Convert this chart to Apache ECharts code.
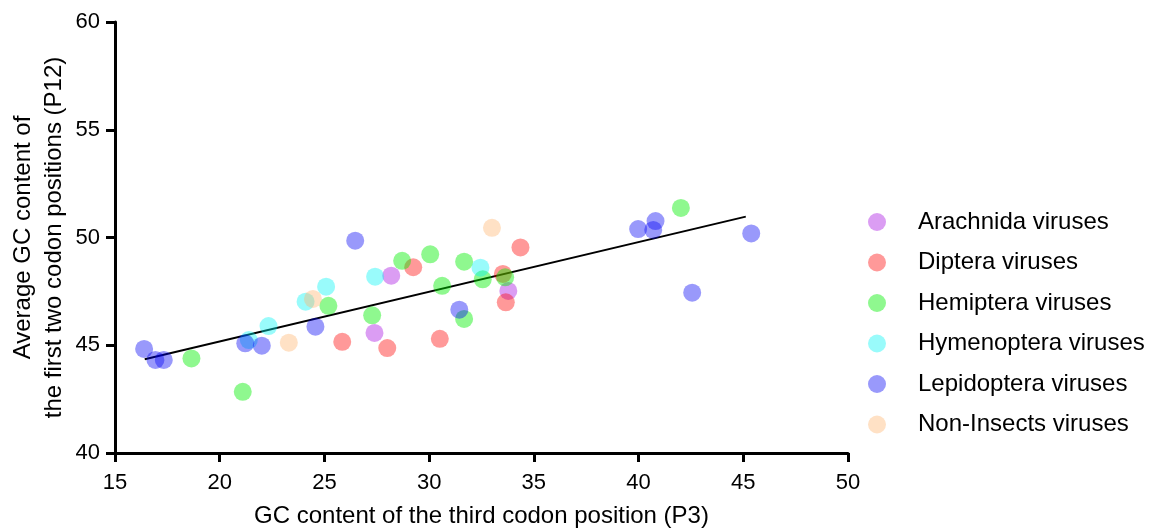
<!DOCTYPE html>
<html>
<head>
<meta charset="utf-8">
<script src="https://cdn.jsdelivr.net/npm/echarts@6/dist/echarts.min.js"></script>
<style>
  html, body { margin: 0; padding: 0; background: #fff; }
  #main { width: 1149px; height: 528px; }
</style>
</head>
<body>
<div id="main"></div>
<script>
// GC3 (x) vs GC12 (y) per virus group
var arachnida = [[28.19, 48.23], [27.39, 45.57], [33.78, 47.52]]
var diptera = [[25.85, 45.16], [28.0, 44.87], [29.24, 48.62], [30.51, 45.30], [33.52, 48.31], [33.66, 46.99], [34.36, 49.54]]
var hemiptera = [[18.65, 44.39], [21.10, 42.84], [25.19, 46.83], [27.28, 46.39], [28.71, 48.92], [30.05, 49.22],
  [30.62, 47.76], [31.67, 48.88], [31.67, 46.22], [32.56, 48.06], [33.63, 48.15], [42.02, 51.37]]
var hymenoptera = [[21.39, 45.24], [22.33, 45.89], [24.10, 47.02], [25.08, 47.72], [27.42, 48.18], [32.45, 48.60]]
var lepidoptera = [[16.39, 44.83], [16.93, 44.32], [17.33, 44.32], [21.22, 45.09], [22.01, 44.98], [24.57, 45.86],
  [26.47, 49.85], [31.44, 46.65], [39.98, 50.39], [40.70, 50.35], [40.81, 50.76], [42.56, 47.44], [45.38, 50.19]]
var nonInsects = [[23.30, 45.12], [24.45, 47.15], [33.0, 50.45]]

var groupNames = ['Arachnida viruses', 'Diptera viruses', 'Hemiptera viruses', 'Hymenoptera viruses', 'Lepidoptera viruses', 'Non-Insects viruses']
var groupData = [arachnida, diptera, hemiptera, hymenoptera, lepidoptera, nonInsects]
var groupColors = ['rgba(165,10,225,0.5)', 'rgba(255,0,0,0.5)', 'rgba(0,240,0,0.55)', 'rgba(0,245,245,0.5)', 'rgba(0,0,245,0.5)', 'rgba(255,180,110,0.5)']

// linear fit
var fitSlope = 0.2307
var fitIntercept = 40.56
var fitRangeX = [16.42, 45.12]

var xTicks = [15, 20, 25, 30, 35, 40, 45, 50]
var yTicks = [40, 45, 50, 55, 60]

var chart = echarts.init(document.getElementById('main'))

var font = 'Liberation Sans, Arial, sans-serif'

var series = groupNames.map(function (name, i) {
  return {
    name: name,
    type: 'scatter',
    symbolSize: 18,
    itemStyle: { color: groupColors[i] },
    emphasis: { disabled: true },
    data: groupData[i]
  }
})

series.push({
  name: 'fit',
  type: 'line',
  showSymbol: false,
  silent: true,
  lineStyle: { color: '#000', width: 2 },
  z: 1,
  data: fitRangeX.map(function (x) { return [x, fitSlope * x + fitIntercept] })
})

var options = {
  animation: false,
  grid: {
    left: 115,
    right: 301,
    top: 22,
    bottom: 75,
    outerBoundsMode: 'none'
  },
  legend: {
    orient: 'vertical',
    left: 863,
    top: 205,
    icon: 'circle',
    itemWidth: 18,
    itemHeight: 18,
    itemGap: 16.5,
    data: groupNames,
    textStyle: {
      fontFamily: font,
      fontSize: 24,
      color: '#000',
      padding: [0, 0, 0, 27]
    }
  },
  xAxis: {
    type: 'value',
    min: xTicks[0],
    max: xTicks[xTicks.length - 1],
    interval: 5,
    name: 'GC content of the third codon position (P3)',
    nameLocation: 'middle',
    nameGap: 51,
    nameMoveOverlap: false,
    nameTextStyle: { fontFamily: font, fontSize: 24, color: '#000' },
    axisLine: { lineStyle: { color: '#000', width: 3 } },
    axisTick: { length: 9, lineStyle: { color: '#000', width: 3 } },
    axisLabel: { fontFamily: font, fontSize: 22, color: '#000', margin: 19 },
    splitLine: { show: false }
  },
  yAxis: {
    type: 'value',
    min: yTicks[0],
    max: yTicks[yTicks.length - 1],
    interval: 5,
    name: 'Average GC content of\nthe first two codon positions (P12)',
    nameLocation: 'middle',
    nameGap: 45,
    nameMoveOverlap: false,
    nameTextStyle: { fontFamily: font, fontSize: 24, color: '#000', lineHeight: 31 },
    axisLine: { lineStyle: { color: '#000', width: 3 } },
    axisTick: { length: 9, lineStyle: { color: '#000', width: 3 } },
    axisLabel: { fontFamily: font, fontSize: 22, color: '#000', margin: 15 },
    splitLine: { show: false }
  },
  series: series
}

chart.setOption(options)
</script>
</body>
</html>
